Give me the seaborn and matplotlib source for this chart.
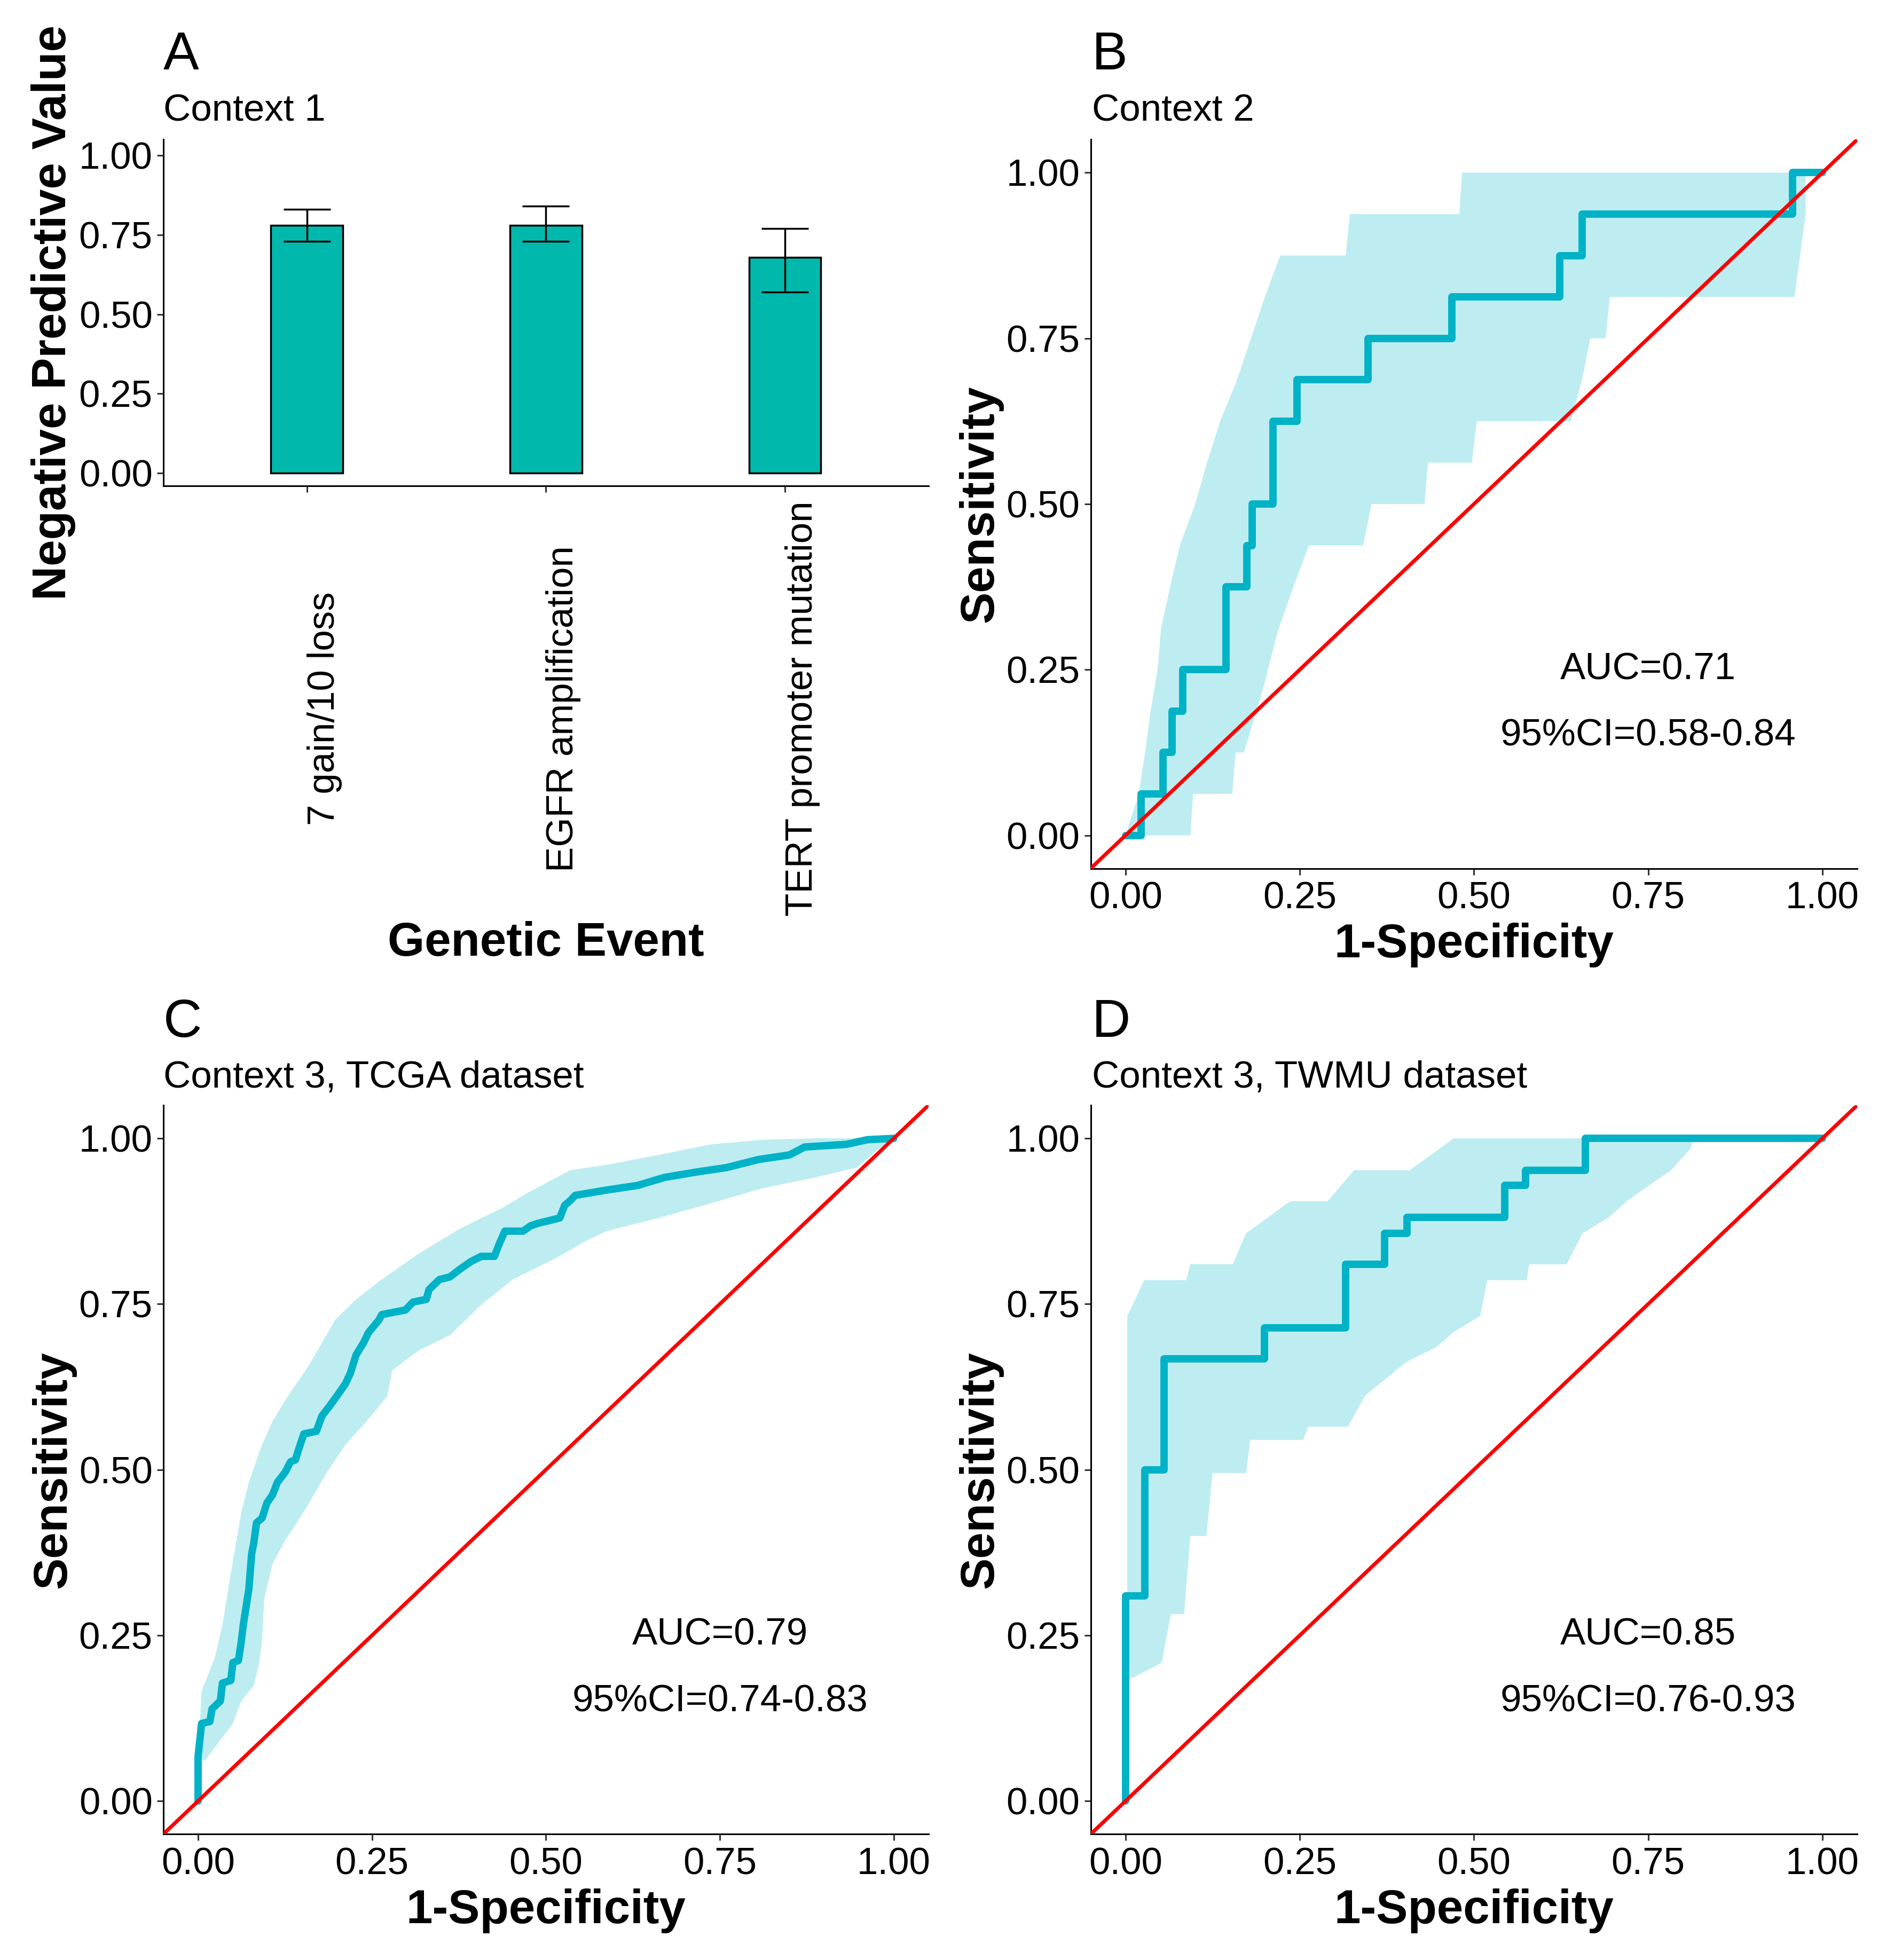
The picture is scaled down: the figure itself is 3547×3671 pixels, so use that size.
import numpy as np
import pandas as pd
import matplotlib
matplotlib.use("Agg")
import matplotlib.pyplot as plt
import seaborn as sns

sns.set_style("white")
plt.rcParams["font.family"] = ["Liberation Sans", "DejaVu Sans"]
plt.rcParams["text.color"] = "black"
plt.rcParams["axes.labelcolor"] = "black"

# ---- panel A: negative predictive value per genetic event ----
events = ["7 gain/10 loss", "EGFR amplification", "TERT promoter mutation"]
npv = [0.78, 0.78, 0.68]
npv_lo = [0.73, 0.73, 0.57]
npv_hi = [0.83, 0.84, 0.77]

# ---- panel B: context 2 ROC ----
b_fpr = [0.0, 0.022, 0.022, 0.054, 0.054, 0.067, 0.067, 0.082, 0.082, 0.144, 0.144, 0.174, 0.174,
         0.182, 0.182, 0.212, 0.212, 0.246, 0.246, 0.348, 0.348, 0.468, 0.468, 0.623, 0.623,
         0.655, 0.655, 0.957, 0.957, 1.0]
b_tpr = [0.0, 0.0, 0.0625, 0.0625, 0.125, 0.125, 0.1875, 0.1875, 0.25, 0.25, 0.375, 0.375, 0.4375,
         0.4375, 0.5, 0.5, 0.625, 0.625, 0.6875, 0.6875, 0.75, 0.75, 0.8125, 0.8125, 0.875,
         0.875, 0.9375, 0.9375, 1.0, 1.0]
b_up_fpr = [0.0, 0.019, 0.028, 0.036, 0.046, 0.051, 0.064, 0.078, 0.1, 0.117, 0.136, 0.16, 0.18,
            0.2, 0.222, 0.316, 0.322, 0.479, 0.483, 0.976]
b_up_se = [0.0, 0.0625, 0.125, 0.1875, 0.25, 0.3125, 0.375, 0.4375, 0.5, 0.5625, 0.625, 0.6875,
           0.75, 0.8125, 0.875, 0.875, 0.9375, 0.9375, 1.0, 1.0]
b_lo_fpr = [0.0, 0.093, 0.097, 0.153, 0.158, 0.17, 0.197, 0.219, 0.241, 0.263, 0.341, 0.353, 0.429,
            0.434, 0.497, 0.504, 0.639, 0.655, 0.667, 0.689, 0.695, 0.96, 0.976, 0.976]
b_lo_se = [0.0, 0.0, 0.0625, 0.0625, 0.125, 0.125, 0.22, 0.31, 0.375, 0.4375, 0.4375, 0.5, 0.5,
           0.5625, 0.5625, 0.625, 0.625, 0.6875, 0.75, 0.75, 0.8125, 0.8125, 0.9375, 1.0]

# ---- panel C: context 3, TCGA ROC ----
c_fpr = [0.0, 0.0, 0.005, 0.017, 0.02, 0.032, 0.035, 0.047, 0.05, 0.058, 0.062, 0.065, 0.069,
         0.073, 0.077, 0.08, 0.084, 0.092, 0.099, 0.107, 0.114, 0.125, 0.133, 0.14, 0.144, 0.152,
         0.17, 0.178, 0.189, 0.2, 0.212, 0.219, 0.227, 0.238, 0.245, 0.26, 0.264, 0.283, 0.298,
         0.309, 0.328, 0.332, 0.347, 0.362, 0.377, 0.392, 0.407, 0.426, 0.433, 0.441, 0.467,
         0.478, 0.489, 0.505, 0.52, 0.527, 0.535, 0.542, 0.587, 0.632, 0.67, 0.715, 0.76, 0.805,
         0.85, 0.872, 0.932, 0.962, 1.0]
c_tpr = [0.0, 0.067, 0.117, 0.12, 0.139, 0.151, 0.178, 0.182, 0.209, 0.212, 0.24, 0.266, 0.293,
         0.32, 0.373, 0.389, 0.42, 0.427, 0.45, 0.462, 0.481, 0.496, 0.512, 0.515, 0.529, 0.554,
         0.558, 0.581, 0.596, 0.612, 0.63, 0.646, 0.673, 0.692, 0.707, 0.726, 0.734, 0.738, 0.741,
         0.753, 0.757, 0.772, 0.787, 0.791, 0.803, 0.814, 0.822, 0.822, 0.841, 0.86, 0.86,
         0.868, 0.872, 0.876, 0.88, 0.899, 0.906, 0.914, 0.922, 0.929, 0.941, 0.949, 0.956, 0.968,
         0.975, 0.987, 0.991, 0.998, 1.0]
c_up_fpr = [0.0, 0.005, 0.024, 0.035, 0.047, 0.062, 0.073, 0.092, 0.107, 0.129, 0.159, 0.197,
            0.227, 0.264, 0.317, 0.377, 0.437, 0.474, 0.535, 0.587, 0.662, 0.737, 0.812, 0.887, 1.0]
c_up_se = [0.067, 0.166, 0.216, 0.266, 0.343, 0.435, 0.481, 0.538, 0.573, 0.611, 0.657, 0.726,
           0.757, 0.787, 0.826, 0.864, 0.895, 0.918, 0.952, 0.96, 0.975, 0.991, 0.998, 1.0, 1.0]
c_lo_fpr = [0.0, 0.009, 0.05, 0.062, 0.08, 0.088, 0.092, 0.095, 0.107, 0.125, 0.137, 0.155, 0.185,
            0.212, 0.242, 0.272, 0.279, 0.317, 0.362, 0.407, 0.452, 0.512, 0.557, 0.587, 0.662,
            0.737, 0.812, 0.887, 0.947, 0.977, 1.0]
c_lo_se = [0.067, 0.06, 0.117, 0.151, 0.174, 0.209, 0.243, 0.304, 0.358, 0.393, 0.412, 0.442,
           0.496, 0.538, 0.573, 0.611, 0.65, 0.68, 0.703, 0.749, 0.787, 0.818, 0.845, 0.86, 0.88,
           0.902, 0.925, 0.941, 0.956, 0.983, 1.0]

# ---- panel D: context 3, TWMU ROC ----
d_fpr = [0.0, 0.0, 0.028, 0.028, 0.055, 0.055, 0.199, 0.199, 0.316, 0.316, 0.372, 0.372, 0.404,
         0.404, 0.544, 0.544, 0.574, 0.574, 0.66, 0.66, 1.0]
d_tpr = [0.0, 0.31, 0.31, 0.5, 0.5, 0.667, 0.667, 0.714, 0.714, 0.81, 0.81, 0.857, 0.857, 0.881,
         0.881, 0.929, 0.929, 0.952, 0.952, 1.0, 1.0]
d_up_fpr = [0.0025, 0.0025, 0.027, 0.087, 0.093, 0.154, 0.173, 0.205, 0.236, 0.29, 0.328, 0.408,
            0.471, 0.815]
d_up_se = [0.186, 0.732, 0.786, 0.786, 0.81, 0.81, 0.857, 0.881, 0.905, 0.905, 0.952, 0.952,
           1.0, 1.0]
d_lo_fpr = [0.0025, 0.011, 0.052, 0.065, 0.084, 0.093, 0.116, 0.125, 0.173, 0.179, 0.255, 0.262,
            0.319, 0.344, 0.402, 0.446, 0.471, 0.509, 0.519, 0.576, 0.579, 0.633, 0.656, 0.694,
            0.719, 0.751, 0.783, 0.811, 0.815]
d_lo_se = [0.186, 0.186, 0.209, 0.282, 0.282, 0.4, 0.4, 0.495, 0.495, 0.545, 0.545, 0.565, 0.565,
           0.612, 0.662, 0.685, 0.708, 0.732, 0.786, 0.786, 0.81, 0.81, 0.857, 0.881, 0.905,
           0.929, 0.952, 0.985, 1.0]

ticks = [0.0, 0.25, 0.5, 0.75, 1.0]
tick_labels = ["0.00", "0.25", "0.50", "0.75", "1.00"]

BAR = "#00B9AD"
ROC = "#00B2C6"
BAND = "#BDEDF0"
FS = 51
FS_TITLE = 64
FS_TAG = 72


def style_axes(ax):
    for side in ["top", "right"]:
        ax.spines[side].set_visible(False)
    for side in ["left", "bottom"]:
        ax.spines[side].set_color("black")
        ax.spines[side].set_linewidth(2.2)
    ax.tick_params(axis="both", direction="out", length=8.5, width=2.2, color="#333333",
                   labelsize=FS, labelcolor="black", left=True, bottom=True, pad=6)
    ax.tick_params(axis="x", pad=9)


def draw_roc(ax, fpr, tpr, up_x, up_y, lo_x, lo_y, auc_txt, ci_txt):
    poly_x = list(up_x) + list(lo_x[::-1])
    poly_y = list(up_y) + list(lo_y[::-1])
    ax.fill(poly_x, poly_y, color=BAND, lw=0, zorder=1)
    sns.lineplot(x=fpr, y=tpr, sort=False, estimator=None, color=ROC, lw=10, ax=ax, zorder=2)
    ax.axline((0, 0), slope=1, color="#FF0000", lw=5, zorder=3)
    ax.set_xlim(-0.05, 1.05)
    ax.set_ylim(-0.05, 1.05)
    ax.set_xticks(ticks)
    ax.set_xticklabels(tick_labels)
    ax.set_yticks(ticks)
    ax.set_yticklabels(tick_labels)
    ax.set_xlabel("1-Specificity", fontsize=FS_TITLE, fontweight="bold", labelpad=8)
    ax.set_ylabel("Sensitivity", fontsize=FS_TITLE, fontweight="bold", labelpad=4)
    ax.text(0.75, 0.25, auc_txt, fontsize=FS, ha="center", va="center")
    ax.text(0.75, 0.15, ci_txt, fontsize=FS, ha="center", va="center")
    style_axes(ax)


fig = plt.figure(figsize=(35.48, 36.71), dpi=100)
ax_a = fig.add_axes([0.0862, 0.7521, 0.4039, 0.1767])
ax_b = fig.add_axes([0.5757, 0.5569, 0.4046, 0.3719])
ax_c = fig.add_axes([0.0862, 0.0642, 0.4039, 0.3719])
ax_d = fig.add_axes([0.5757, 0.0642, 0.4046, 0.3719])

# panel A
df_a = pd.DataFrame({"event": events, "npv": npv, "lo": npv_lo, "hi": npv_hi})
sns.barplot(data=df_a, x="event", y="npv", color=BAR, width=0.3, edgecolor="black",
            linewidth=2.5, errorbar=None, saturation=1, ax=ax_a)
ax_a.errorbar(x=np.arange(len(events)), y=df_a["npv"],
              yerr=[df_a["npv"] - df_a["lo"], df_a["hi"] - df_a["npv"]],
              fmt="none", ecolor="black", elinewidth=2.5, capsize=32, capthick=2.5)
ax_a.set_xlim(-0.6, 2.6)
ax_a.set_ylim(-0.04, 1.05)
ax_a.set_yticks(ticks)
ax_a.set_yticklabels(tick_labels)
style_axes(ax_a)
ax_a.set_xticks(range(len(events)))
ax_a.set_xticklabels(events, rotation=90, ha="left", va="center")
ax_a.tick_params(axis="x", pad=292)
ax_a.set_xlabel("Genetic Event", fontsize=FS_TITLE, fontweight="bold", labelpad=6)
ax_a.set_ylabel("Negative Predictive Value", fontsize=FS_TITLE, fontweight="bold", labelpad=4)

draw_roc(ax_b, b_fpr, b_tpr, b_up_fpr, b_up_se, b_lo_fpr, b_lo_se, "AUC=0.71", "95%CI=0.58-0.84")
draw_roc(ax_c, c_fpr, c_tpr, c_up_fpr, c_up_se, c_lo_fpr, c_lo_se, "AUC=0.79", "95%CI=0.74-0.83")
draw_roc(ax_d, d_fpr, d_tpr, d_up_fpr, d_up_se, d_lo_fpr, d_lo_se, "AUC=0.85", "95%CI=0.76-0.93")

# panel tags and subtitles
for x, y_tag, y_sub, tag, sub in [
    (0.0862, 0.9645, 0.9383, "A", "Context 1"),
    (0.5763, 0.9645, 0.9383, "B", "Context 2"),
    (0.0862, 0.4710, 0.4450, "C", "Context 3, TCGA dataset"),
    (0.5763, 0.4710, 0.4450, "D", "Context 3, TWMU dataset"),
]:
    fig.text(x, y_tag, tag, fontsize=FS_TAG, ha="left", va="baseline")
    fig.text(x, y_sub, sub, fontsize=FS, ha="left", va="baseline")

fig.savefig("out.png", dpi=100, facecolor="white")
